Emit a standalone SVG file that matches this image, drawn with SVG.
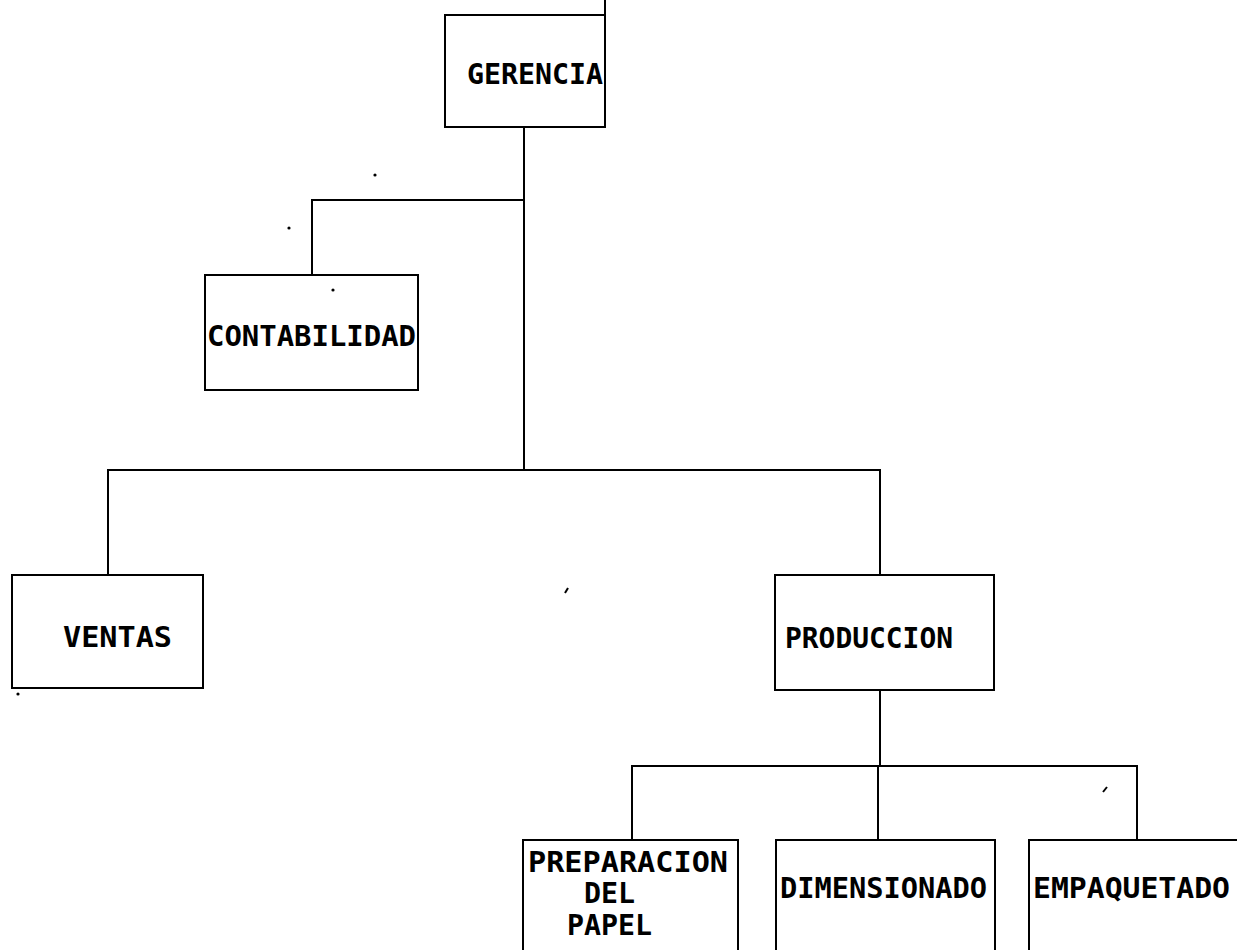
<svg xmlns="http://www.w3.org/2000/svg" width="1237" height="950" viewBox="0 0 1237 950">
<style>
.box{fill:#fff;stroke:#000;stroke-width:2}
.ln{fill:none;stroke:#000;stroke-width:2}
.t{font-family:"DejaVu Sans Mono","Liberation Mono",monospace;font-weight:bold;font-size:28px;fill:#000}
.speck{fill:#000}
</style>
<rect width="1237" height="950" fill="#fff"/>
<g id="connectors">
<path class="ln" d="M605,0 V15"/>
<path class="ln" d="M524,127 V470"/>
<path class="ln" d="M524,200 H312 V275"/>
<path class="ln" d="M108,575 V470 H880 V575"/>
<path class="ln" d="M880,690 V766"/>
<path class="ln" d="M632,840 V766 H1137 V840"/>
<path class="ln" d="M878,766 V840"/>
</g>
<g id="gerencia">
<rect class="box" x="445" y="15" width="160" height="112"/>
<text class="t" x="467" y="84" textLength="136" lengthAdjust="spacingAndGlyphs">GERENCIA</text>
</g>
<g id="contabilidad">
<rect class="box" x="205" y="275" width="213" height="115"/>
<text class="t" x="207" y="346" textLength="209" lengthAdjust="spacingAndGlyphs">CONTABILIDAD</text>
</g>
<g id="ventas">
<rect class="box" x="12" y="575" width="191" height="113"/>
<text class="t" x="63" y="647" textLength="109" lengthAdjust="spacingAndGlyphs">VENTAS</text>
</g>
<g id="produccion">
<rect class="box" x="775" y="575" width="219" height="115"/>
<text class="t" x="785" y="648" textLength="168" lengthAdjust="spacingAndGlyphs">PRODUCCION</text>
</g>
<g id="preparacion">
<rect class="box" x="523" y="840" width="215" height="120"/>
<text class="t" x="528" y="872" textLength="200" lengthAdjust="spacingAndGlyphs">PREPARACION</text>
<text class="t" x="584" y="903" textLength="51" lengthAdjust="spacingAndGlyphs">DEL</text>
<text class="t" x="567" y="935" textLength="85" lengthAdjust="spacingAndGlyphs">PAPEL</text>
</g>
<g id="dimensionado">
<rect class="box" x="776" y="840" width="219" height="120"/>
<text class="t" x="780" y="898" textLength="207" lengthAdjust="spacingAndGlyphs">DIMENSIONADO</text>
</g>
<g id="empaquetado">
<rect class="box" x="1029" y="840" width="220" height="120"/>
<text class="t" x="1033" y="898" textLength="197" lengthAdjust="spacingAndGlyphs">EMPAQUETADO</text>
</g>
<g id="specks">
<circle class="speck" cx="375" cy="175" r="1.6"/>
<circle class="speck" cx="289" cy="228" r="1.6"/>
<circle class="speck" cx="333" cy="290" r="1.6"/>
<circle class="speck" cx="18" cy="694" r="1.6"/>
<path class="ln" d="M565,593 L568,588" stroke-width="1.8"/>
<path class="ln" d="M1103,792 L1107,787" stroke-width="1.8"/>
</g>
</svg>
